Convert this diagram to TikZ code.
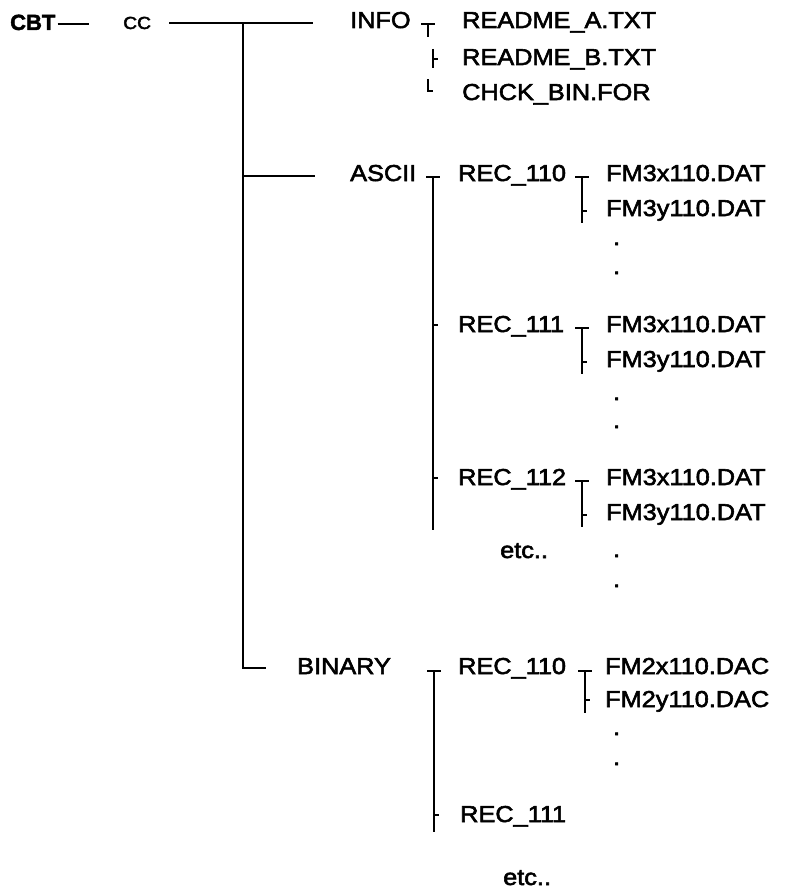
\documentclass[tikz,border=0pt]{standalone}
\usepackage{fontspec}
\setmainfont[FakeStretch=1.1,FakeBold=2.5]{Liberation Sans}
\newfontfamily\cbtfont[FakeBold=2]{Liberation Sans}
\usetikzlibrary{calc}
\begin{document}
\begin{tikzpicture}[x=1pt,y=-1pt,
  lbl/.style={anchor=base west, inner sep=0pt, font=\fontsize{23}{27}\selectfont},
  small/.style={anchor=base west, inner sep=0pt, font=\fontsize{17.5}{20}\selectfont},
  tree/.style={line width=2pt, line cap=butt}]
\useasboundingbox (0,0) rectangle (789,891);
% column positions of the tree marks
\coordinate (cI) at (428,0);
\coordinate (cIb) at (433,0);
\coordinate (cA) at (433,0);
\coordinate (cR) at (582,0);
\coordinate (cB) at (434,0);
\coordinate (cBR) at (585,0);
\coordinate (trunkx) at (243,0);
% texts
\node[anchor=base west, inner sep=0pt, font=\cbtfont\bfseries\fontsize{22}{25}\selectfont] (cbt) at (10,30) {CBT};
\node[small] (cc) at (123,29) {CC};
\node[lbl] (info) at (350,28) {INFO};
\node[lbl] (ra) at (462,28) {README\_A.TXT};
\node[lbl] (rb) at (462,65) {README\_B.TXT};
\node[lbl] (cb) at (462,100) {CHCK\_BIN.FOR};
\node[lbl] (ascii) at (350,181) {ASCII};
\node[lbl] (r110) at (458,181) {REC\_110};
\node[lbl] (f1x) at (606,181) {FM3x110.DAT};
\node[lbl] (f1y) at (606,216) {FM3y110.DAT};
\node[lbl] (d1a) at (613,245) {.};
\node[lbl] (d1b) at (613,274) {.};
\node[lbl] (r111) at (458,332) {REC\_111};
\node[lbl] (f2x) at (606,332) {FM3x110.DAT};
\node[lbl] (f2y) at (606,367) {FM3y110.DAT};
\node[lbl] (d2a) at (613,400) {.};
\node[lbl] (d2b) at (613,428) {.};
\node[lbl] (r112) at (458,485) {REC\_112};
\node[lbl] (f3x) at (606,485) {FM3x110.DAT};
\node[lbl] (f3y) at (606,520) {FM3y110.DAT};
\node[lbl] (etcA) at (500,558) {etc..};
\node[lbl] (d3a) at (613,557) {.};
\node[lbl] (d3b) at (613,587) {.};
\node[lbl] (binary) at (297,674) {BINARY};
\node[lbl] (b110) at (458,674) {REC\_110};
\node[lbl] (g1x) at (605,674) {FM2x110.DAC};
\node[lbl] (g1y) at (605,707) {FM2y110.DAC};
\node[lbl] (d4a) at (613,735) {.};
\node[lbl] (d4b) at (613,765) {.};
\node[lbl] (b111) at (460,822) {REC\_111};
\node[lbl] (etcB) at (503,885) {etc..};
% CBT dash and main line
\draw[tree] ($(cbt.base east)+(2,-6)$) -- ++(31,0);
\coordinate (top0) at ($(cc.base east)+(18,-6)$);
\coordinate (top1) at ($(info.base west)+(-37,-5)$);
\draw[tree] (top0) -- (top1 |- top0);
\draw[tree] (trunkx |- top0) -- ($(trunkx |- binary.base)+(0,-6)$) -- ($(binary.base west)+(-31,-6)$);
\draw[tree] ($(trunkx |- ascii.base)+(0,-5)$) -- ($(ascii.base west)+(-35,-5)$);
% INFO group
\draw[tree] ($(cI |- info.base)+(-7,-4)$) -- ++(14,0);
\draw[tree] ($(cI |- info.base)+(0,-4)$) -- ($(cI |- info.base)+(0,9)$);
\draw[tree] ($(cIb |- rb.base)+(0,-16)$) -- ($(cIb |- rb.base)+(0,3)$);
\draw[tree] ($(cIb |- rb.base)+(0,-6)$) -- ++(5,0);
\draw[tree] ($(cI |- cb.base)+(0,-21)$) |- ($(cI |- cb.base)+(5,-9)$);
% ASCII group
\draw[tree] ($(cA |- ascii.base)+(-7,-4)$) -- ++(14,0);
\draw[tree] ($(cA |- ascii.base)+(0,-4)$) -- ($(cA |- r112.base)+(0,45)$);
\draw[tree] ($(cA |- r111.base)+(0,-7)$) -- ++(5,0);
\draw[tree] ($(cA |- r112.base)+(0,-7)$) -- ++(5,0);
\foreach \r/\f in {r110/f1y, r111/f2y, r112/f3y}{
  \draw[tree] ($(cR |- \r.base)+(-7,-4)$) -- ++(14,0);
  \draw[tree] ($(cR |- \r.base)+(0,-4)$) -- ($(cR |- \f.base)+(0,7)$);
  \draw[tree] ($(cR |- \f.base)+(0,-5)$) -- ++(5,0);
}
% BINARY group
\draw[tree] ($(cB |- binary.base)+(-7,-3)$) -- ++(14,0);
\draw[tree] ($(cB |- binary.base)+(0,-3)$) -- ($(cB |- b111.base)+(0,10)$);
\draw[tree] ($(cB |- b111.base)+(0,-7)$) -- ++(5,0);
\draw[tree] ($(cBR |- b110.base)+(-7,-3)$) -- ++(14,0);
\draw[tree] ($(cBR |- b110.base)+(0,-3)$) -- ($(cBR |- g1y.base)+(0,6)$);
\draw[tree] ($(cBR |- g1y.base)+(0,-7)$) -- ++(5,0);
\end{tikzpicture}
\end{document}
